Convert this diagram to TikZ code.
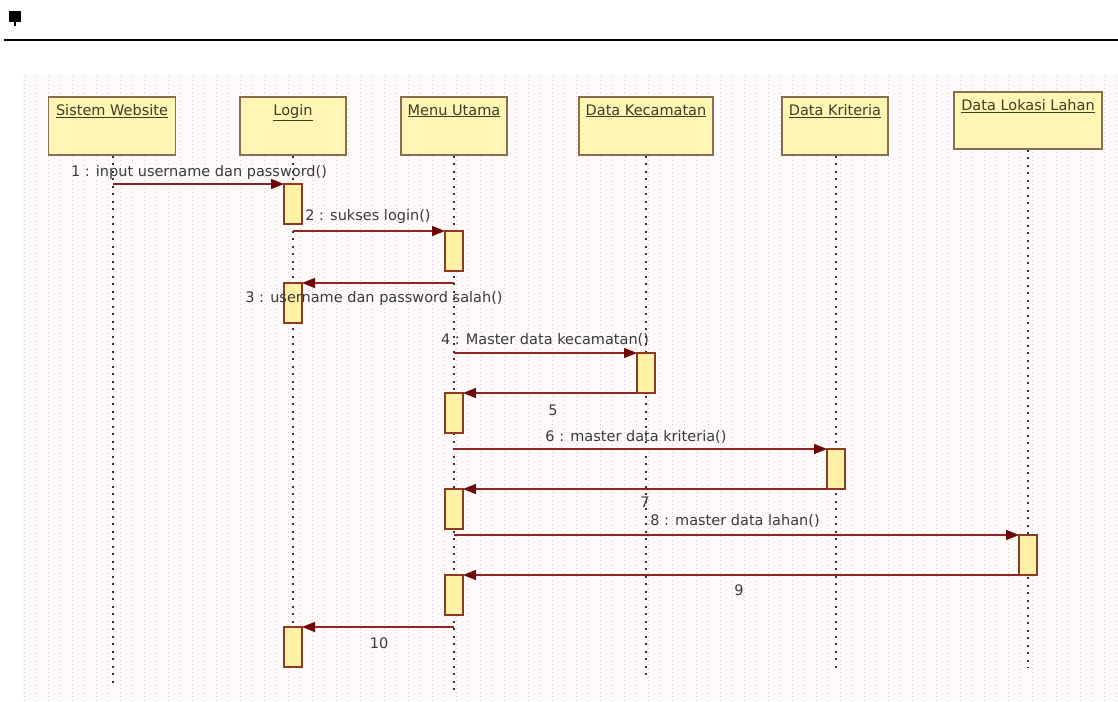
\documentclass[tikz,border=0pt]{standalone}
\usepackage{fontspec}
\setmainfont{DejaVu Sans}
\usetikzlibrary{arrows.meta}
\definecolor{headfill}{HTML}{FFF6B5}
\definecolor{headdraw}{HTML}{8A6E50}
\definecolor{actfill}{HTML}{FFF2A6}
\definecolor{actdraw}{HTML}{8E3A22}
\definecolor{msgcol}{HTML}{8E2424}
\definecolor{tipcol}{HTML}{6E0808}
\definecolor{txt}{HTML}{3A3A3A}
\definecolor{headtxt}{HTML}{3E3E22}
\tikzset{
  head/.style={draw=headdraw, line width=1.5pt, fill=headfill, inner sep=0pt},
  act/.style={draw=actdraw, line width=1.2pt, fill=actfill, minimum width=18pt, minimum height=40pt, inner sep=0pt, outer sep=0pt, anchor=north},
  lifeline/.style={black!80, line width=2.2pt, dash pattern=on 2.2pt off 5.3pt},
  msg/.style={msgcol, line width=1.2pt, -{Triangle[length=13pt,width=10pt,color=tipcol]}},
  lbl/.style={font=\fontsize{14.5}{16}\selectfont, text=txt, inner sep=0pt},
  hl/.style={anchor=north, yshift=-8pt, inner sep=0pt},
}
\newcommand{\headlbl}[1]{\fontsize{14.5}{16}\selectfont\color{headtxt}\underline{#1}}
\begin{document}
\begin{tikzpicture}[x=1pt,y=-1pt]
\useasboundingbox (0,0) rectangle (1118,701);
\fill[white] (0,0) rectangle (1118,701);
% faint grid background
\fill[red!2] (22,75) rectangle (1118,701);
\draw[black!18, line width=0.9pt, dash pattern=on 1pt off 3pt, step=12] (22,75) grid (1118,701);
% icon and rule
\fill[black] (9,11) rectangle (21,22);
\fill[black] (14,22) rectangle (16,26);
\draw[black, line width=2pt] (4,40) -- (1118,40);

% heads
\node[head, minimum width=127pt, minimum height=58pt, label={[hl]north:\headlbl{Sistem Website}}] (sw) at (112,126) {};
\node[head, minimum width=106pt, minimum height=58pt, label={[hl]north:\headlbl{Login}}] (lg) at (293,126) {};
\node[head, minimum width=106pt, minimum height=58pt, label={[hl]north:\headlbl{Menu Utama}}] (mu) at (454,126) {};
\node[head, minimum width=134pt, minimum height=58pt, label={[hl]north:\headlbl{Data Kecamatan}}] (dk) at (646,126) {};
\node[head, minimum width=106pt, minimum height=58pt, label={[hl]north:\headlbl{Data Kriteria}}] (dr) at (835,126) {};
\node[head, minimum width=148pt, minimum height=57pt, label={[hl]north:\headlbl{Data Lokasi Lahan}}] (dl) at (1028,120.5) {};

% lifeline ends
\coordinate (swE) at (113,685);
\coordinate (lgE) at (293,667);
\coordinate (muE) at (454,690);
\coordinate (dkE) at (646,675);
\coordinate (drE) at (836,673);
\coordinate (dlE) at (1028,668);
\draw[lifeline] (sw.south -| swE) -- (swE);
\draw[lifeline] (lg.south) -- (lgE);
\draw[lifeline] (mu.south) -- (muE);
\draw[lifeline] (dk.south) -- (dkE);
\draw[lifeline] (dr.south -| drE) -- (drE);
\draw[lifeline] (dl.south -| dlE) -- (dlE);

% activations
\node[act] (a1) at (293,184) {};
\node[act] (a2) at (454,231) {};
\node[act] (a3) at (293,283) {};
\node[act] (a4) at (646,353) {};
\node[act] (a5) at (454,393) {};
\node[act] (a6) at (836,449) {};
\node[act] (a7) at (454,489) {};
\node[act] (a8) at (1028,535) {};
\node[act] (a9) at (454,575) {};
\node[act] (a10) at (293,627) {};

% messages
\draw[msg] (swE |- a1.north) -- (a1.north west);
\draw[msg] (lgE |- a2.north) -- (a2.north west);
\draw[msg] (muE |- a3.north) -- (a3.north east);
\draw[msg] (muE |- a4.north) -- (a4.north west);
\draw[msg] (a4.south west) -- (a4.south west -| a5.east);
\draw[msg] (muE |- a6.north) -- (a6.north west);
\draw[msg] (a6.south west) -- (a6.south west -| a7.east);
\draw[msg] (muE |- a8.north) -- (a8.north west);
\draw[msg] (a8.south west) -- (a8.south west -| a9.east);
\draw[msg] (muE |- a10.north) -- (a10.north east);

% labels
\node[lbl] (l1) at (199,172) {1 : input username dan password()};
\node[lbl] (l2) at (368,216) {2 : sukses login()};
\node[lbl] (l3) at (374,298) {3 : username dan password salah()};
\node[lbl] (l4) at (545,340) {4 : Master data kecamatan()};
\node[lbl] (l5) at (553,410) {5};
\node[lbl] (l6) at (636,437) {6 : master data kriteria()};
\node[lbl] (l7) at (645,502) {7};
\node[lbl] (l8) at (735,521) {8 : master data lahan()};
\node[lbl] (l9) at (739,590) {9};
\node[lbl] (l10) at (379,643) {10};
\end{tikzpicture}
\end{document}
